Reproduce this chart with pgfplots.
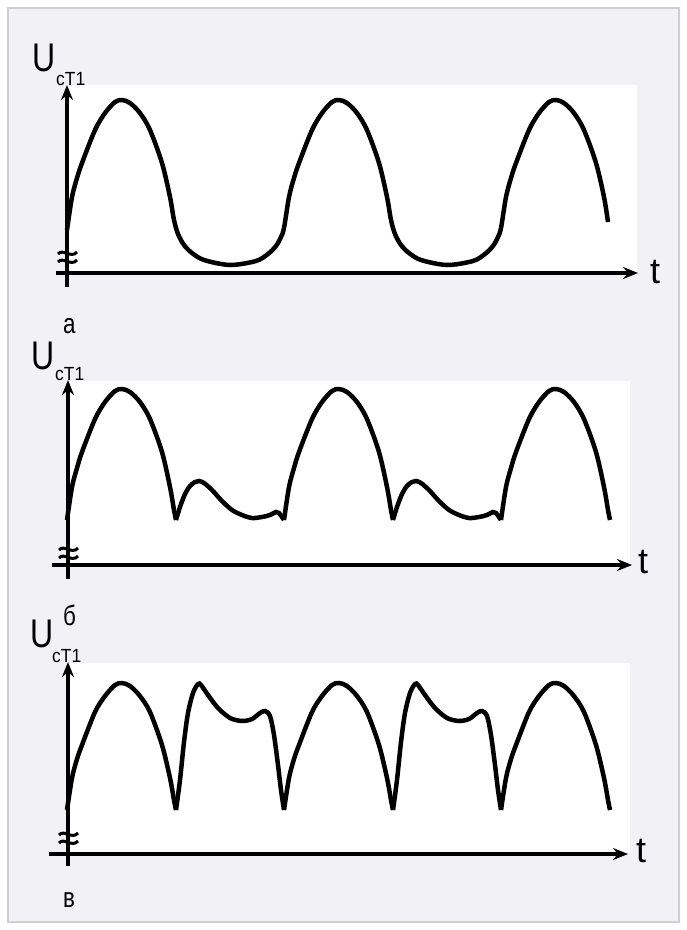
\documentclass[border=0pt]{standalone}
\usepackage{pgfplots}
\pgfplotsset{compat=1.18}
\usetikzlibrary{arrows.meta}
\usepackage{graphicx}
\usepackage{fontspec}
\setmainfont{Liberation Sans}
\definecolor{bg}{HTML}{F1F1F6}
\definecolor{frame}{HTML}{CFCFD2}
\newcommand\BigU{\scalebox{0.8}[1]{\fontsize{40}{40}\selectfont U}}
\newcommand\Sub{\scalebox{0.92}[1]{\fontsize{19}{19}\selectfont cT1}}
\newcommand\Lbl[1]{\scalebox{0.8}[1]{\fontsize{28}{28}\selectfont #1}}
\begin{document}
\begin{tikzpicture}
\begin{axis}[width=687pt,height=930pt,scale only axis,
  xmin=0,xmax=687,ymin=0,ymax=930,y dir=reverse,hide axis,clip=false]
% frame and background
\fill[white] (axis cs:0,0) rectangle (axis cs:687,930);
\filldraw[fill=bg,draw=frame,line width=2pt] (axis cs:8,8) rectangle (axis cs:679,922);
% white plot areas
\fill[white] (axis cs:67,85) rectangle (axis cs:637,273);
\fill[white] (axis cs:68,381) rectangle (axis cs:630,564);
\fill[white] (axis cs:68,663) rectangle (axis cs:630,854);

% ---------- panel a ----------
\addplot[black,line width=4.5pt,smooth,tension=0.5] coordinates {
(67,230)(72,197)(77,178)(82,163)(95,130)(105,113)(115,102)(122,100)(130,103)(140,113)(150,130)(162,163)(170,197)(174,220)
(178,234)(184,245)(192,253)(204,260)(230,265)(256,261)(268,254)(276,246)(281,237)(284,228)
(289,197)(294,178)(299,163)(312,130)(322,113)(332,102)(339,100)(347,103)(357,113)(367,130)(379,163)(387,197)(391,220)
(395,234)(401,245)(409,253)(421,260)(447,265)(473,261)(485,254)(493,246)(498,237)(501,228)
(506,197)(511,178)(516,163)(529,130)(539,113)(549,102)(556,100)(564,103)(574,113)(584,130)(596,163)(604,197)(608,222)
};
% ---------- panel b ----------
\addplot[black,line width=4.5pt,smooth,tension=0.5] coordinates {
(67,520)(72,487)(77,468)(82,452)(95,419)(105,402)(115,391)(122,389)(130,392)(140,402)(150,419)(162,452)(170,487)(174,510)(176,520)};
\addplot[black,line width=4.5pt,smooth,tension=0.5] coordinates {
(176,520)(180,507)(185,494)(190,486)(195,482)(199,481)(204,483)(212,490)(222,501)(232,510)(242,515)(252,518)(262,517)(270,515)(276,512)(279,513)(282,517)(284,520)};
\addplot[black,line width=4.5pt,smooth,tension=0.5] coordinates {
(284,520)(289,487)(294,468)(299,452)(312,419)(322,402)(332,391)(339,389)(347,392)(357,402)(367,419)(379,452)(387,487)(391,510)(393,520)};
\addplot[black,line width=4.5pt,smooth,tension=0.5] coordinates {
(393,520)(397,507)(402,494)(407,486)(412,482)(416,481)(421,483)(429,490)(439,501)(449,510)(459,515)(469,518)(479,517)(487,515)(493,512)(496,513)(499,517)(501,520)};
\addplot[black,line width=4.5pt,smooth,tension=0.5] coordinates {
(501,520)(506,487)(511,468)(516,452)(529,419)(539,402)(549,391)(556,389)(564,392)(574,402)(584,419)(596,452)(604,487)(608,510)(610,520)};
% ---------- panel c ----------
\addplot[black,line width=4.5pt,smooth,tension=0.5] coordinates {
(67,810)(72,778)(77,759)(82,745)(95,712)(105,696)(115,685)(122,683)(130,686)(140,696)(150,712)(162,745)(170,778)(174,800)(176,810)};
\addplot[black,line width=4.5pt,smooth,tension=0.5] coordinates {
(176,810)(180,780)(184,742)(188,713)(193,693)(198,684)(201,685)(208,695)(218,708)(230,718)(242,721)(252,719)(260,713)(265,711)(270,716)(274,735)(278,765)(281,790)(284,810)};
\addplot[black,line width=4.5pt,smooth,tension=0.5] coordinates {
(284,810)(289,778)(294,759)(299,745)(312,712)(322,696)(332,685)(339,683)(347,686)(357,696)(367,712)(379,745)(387,778)(391,800)(393,810)};
\addplot[black,line width=4.5pt,smooth,tension=0.5] coordinates {
(393,810)(397,780)(401,742)(405,713)(410,693)(415,684)(418,685)(425,695)(435,708)(447,718)(459,721)(469,719)(477,713)(482,711)(487,716)(491,735)(495,765)(498,790)(501,810)};
\addplot[black,line width=4.5pt,smooth,tension=0.5] coordinates {
(501,810)(506,778)(511,759)(516,745)(529,712)(539,696)(549,685)(556,683)(564,686)(574,696)(584,712)(596,745)(604,778)(608,800)(610,810)};

% ---------- axes ----------
\draw[line width=4pt,-{Stealth[length=15pt,width=12pt]}] (axis cs:67,287) -- (axis cs:67,85);
\draw[line width=4pt,-{Stealth[length=15pt,width=12pt]}] (axis cs:56,273) -- (axis cs:638,273);
\draw[line width=4pt,-{Stealth[length=15pt,width=12pt]}] (axis cs:68,579) -- (axis cs:68,380);
\draw[line width=4pt,-{Stealth[length=15pt,width=12pt]}] (axis cs:52,565) -- (axis cs:632,565);
\draw[line width=4pt,-{Stealth[length=15pt,width=12pt]}] (axis cs:68,866) -- (axis cs:68,662);
\draw[line width=4pt,-{Stealth[length=15pt,width=12pt]}] (axis cs:49,854) -- (axis cs:628,854);
% break marks
\draw[line width=3pt] (axis cs:58,254) .. controls (axis cs:63,248) and (axis cs:71,259) .. (axis cs:77,252);
\draw[line width=3pt] (axis cs:58,262) .. controls (axis cs:63,256) and (axis cs:71,267) .. (axis cs:77,260);
\draw[line width=3pt] (axis cs:59,550) .. controls (axis cs:64,544) and (axis cs:72,555) .. (axis cs:78,548);
\draw[line width=3pt] (axis cs:59,558) .. controls (axis cs:64,552) and (axis cs:72,563) .. (axis cs:78,556);
\draw[line width=3pt] (axis cs:59,835) .. controls (axis cs:64,829) and (axis cs:72,840) .. (axis cs:78,833);
\draw[line width=3pt] (axis cs:59,843) .. controls (axis cs:64,837) and (axis cs:72,848) .. (axis cs:78,841);
% ---------- labels ----------
\node[anchor=base west,inner sep=0pt] at (axis cs:32,71) {\BigU};
\node[anchor=base west,inner sep=0pt] at (axis cs:56,85) {\Sub};
\node[anchor=base west,inner sep=0pt] at (axis cs:31,369) {\BigU};
\node[anchor=base west,inner sep=0pt] at (axis cs:55,380) {\Sub};
\node[anchor=base west,inner sep=0pt] at (axis cs:30,647) {\BigU};
\node[anchor=base west,inner sep=0pt] at (axis cs:52,662) {\Sub};
\node[anchor=base west,inner sep=0pt] at (axis cs:650,283) {\fontsize{36}{36}\selectfont t};
\node[anchor=base west,inner sep=0pt] at (axis cs:638,573) {\fontsize{36}{36}\selectfont t};
\node[anchor=base west,inner sep=0pt] at (axis cs:636,862) {\fontsize{36}{36}\selectfont t};
\node[anchor=base west,inner sep=0pt] at (axis cs:63,333) {\Lbl{а}};
\node[anchor=base west,inner sep=0pt] at (axis cs:63,625) {\Lbl{б}};
\node[anchor=base west,inner sep=0pt] at (axis cs:63,907) {\Lbl{в}};
\end{axis}
\end{tikzpicture}
\end{document}
